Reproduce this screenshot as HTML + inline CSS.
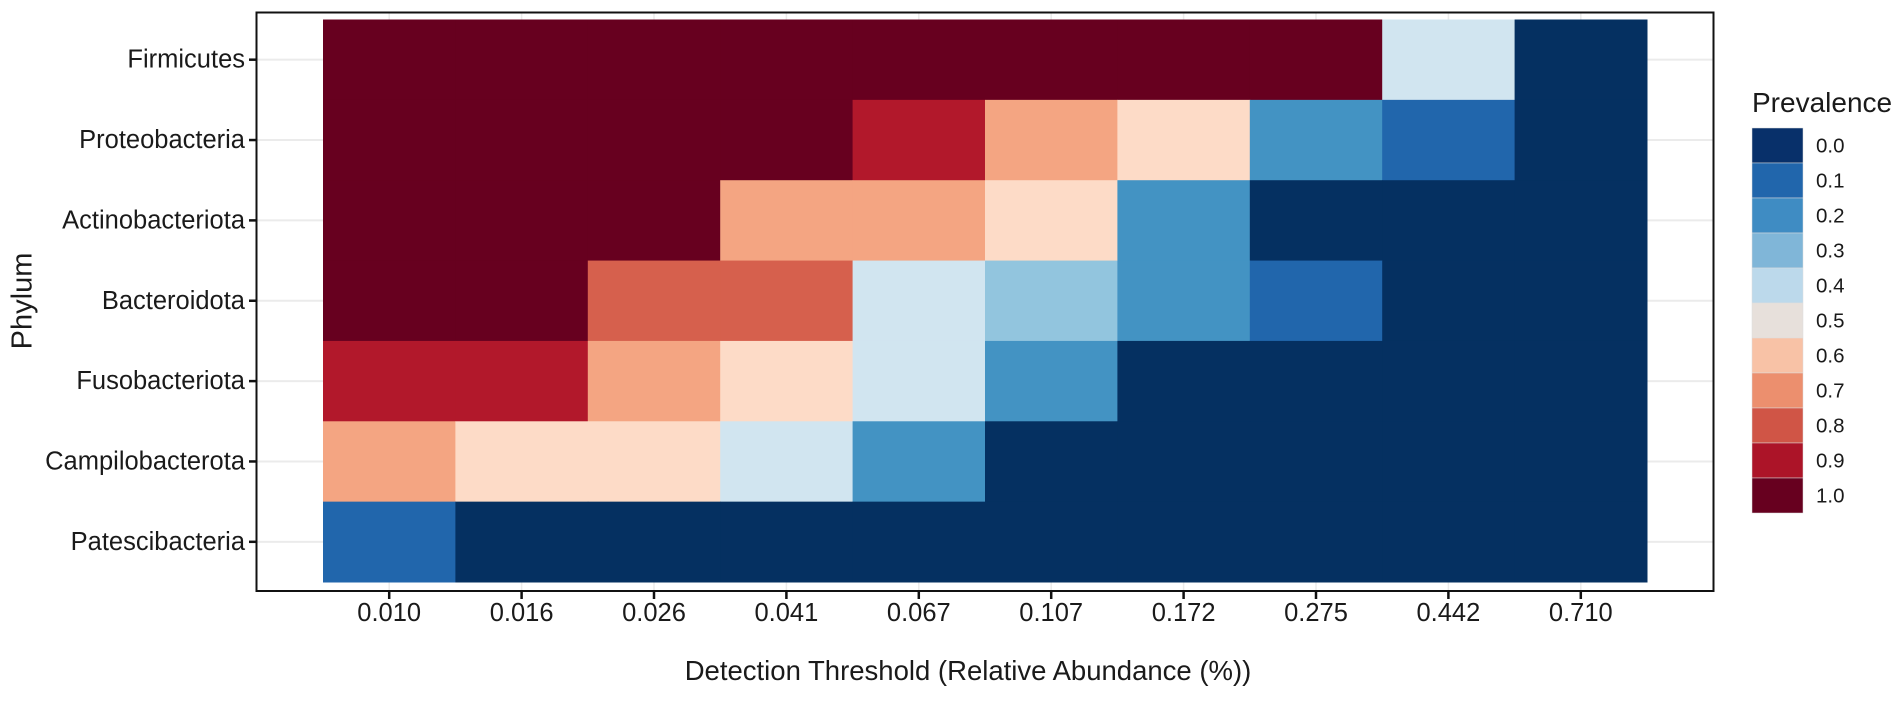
<!DOCTYPE html>
<html><head><meta charset="utf-8"><style>
body{margin:0;background:#fff;}
svg text{font-family:"Liberation Sans",Arial,sans-serif;fill:#1a1a1a;}
</style></head><body>
<svg width="1902" height="701" xmlns="http://www.w3.org/2000/svg">
<g id="grid"></g>
<g id="tiles"></g>
<rect x="256.5" y="12.5" width="1457" height="578.5" fill="none" stroke="#111" stroke-width="2"/>
<g id="axes"></g>
<text x="24" y="301" font-size="29" text-anchor="middle" transform="rotate(-90 24 301)" dominant-baseline="middle">Phylum</text>
<text x="968" y="680" font-size="27.5" text-anchor="middle">Detection Threshold (Relative Abundance (%))</text>
<text x="1752" y="112" font-size="28">Prevalence</text>
<g id="legend"></g>
</svg>
<script>
const categoriesX = ["0.010","0.016","0.026","0.041","0.067","0.107","0.172","0.275","0.442","0.710"];
const categoriesY = ["Firmicutes","Proteobacteria","Actinobacteriota","Bacteroidota","Fusobacteriota","Campilobacterota","Patescibacteria"];
const rowFirmicutes = [1,1,1,1,1,1,1,1,0.4,0];
const rowProteobacteria = [1,1,1,1,0.9,0.7,0.6,0.2,0.1,0];
const rowActinobacteriota = [1,1,1,0.7,0.7,0.6,0.2,0,0,0];
const rowBacteroidota = [1,1,0.8,0.8,0.4,0.3,0.2,0.1,0,0];
const rowFusobacteriota = [0.9,0.9,0.7,0.6,0.4,0.2,0,0,0,0];
const rowCampilobacterota = [0.7,0.6,0.6,0.4,0.2,0,0,0,0,0];
const rowPatescibacteria = [0.1,0,0,0,0,0,0,0,0,0];
const values = [rowFirmicutes,rowProteobacteria,rowActinobacteriota,rowBacteroidota,rowFusobacteriota,rowCampilobacterota,rowPatescibacteria];
const legendLevels = ["0.0","0.1","0.2","0.3","0.4","0.5","0.6","0.7","0.8","0.9","1.0"];

const NS="http://www.w3.org/2000/svg";
const tileL=323, tileR=1647, tileT=19.5, tileB=582;
const colW=(tileR-tileL)/categoriesX.length, rowH=(tileB-tileT)/categoriesY.length;
function xPos(i){return tileL+colW*i;}
function yPos(j){return tileT+rowH*j;}
const stops=[[5,48,97],[33,102,172],[67,147,195],[146,197,222],[209,229,240],[247,247,247],[253,219,199],[244,165,130],[214,96,77],[178,24,43],[103,0,31]];
const legendCols=["#08306a","#2166ac","#3f8cc3","#80b6d8","#bcd9eb","#e7e0db","#f8c2a6","#ec8f6e","#d05546","#ac1428","#67001f"];
function color(v){
  const t=Math.max(0,Math.min(1,v))*10, i=Math.min(9,Math.floor(t)), f=t-i;
  const a=stops[i], b=stops[i+1];
  return "rgb("+a.map((c,k)=>Math.round(c+(b[k]-c)*f)).join(",")+")";
}
function mk(tag,attrs,parent){const e=document.createElementNS(NS,tag);for(const k in attrs)e.setAttribute(k,attrs[k]);parent.appendChild(e);return e;}
const grid=document.getElementById("grid"), tiles=document.getElementById("tiles"), axes=document.getElementById("axes"), legend=document.getElementById("legend");
categoriesY.forEach((c,j)=>{
  const y=yPos(j)+rowH/2;
  const g=mk("line",{x1:257,x2:1713,y1:y,y2:y,stroke:"#ebebeb","stroke-width":2},grid);
  
  
  const t=mk("line",{x1:249,x2:257,y1:y,y2:y,stroke:"#111","stroke-width":2.5},axes);
  
  
  const l=mk("text",{x:245,y:y,"font-size":25.5,"text-anchor":"end","dominant-baseline":"central"},axes);
  l.textContent=c;
  
  
});
categoriesX.forEach((c,i)=>{
  const x=xPos(i)+colW/2;
  const g=mk("line",{x1:x,x2:x,y1:13,y2:590,stroke:"#ebebeb","stroke-width":1.5},grid);
  
  
  const t=mk("line",{x1:x,x2:x,y1:591,y2:599,stroke:"#111","stroke-width":2.5},axes);
  
  
  const l=mk("text",{x:x,y:621,"font-size":25.5,"text-anchor":"middle"},axes);
  l.textContent=c;
  
  
});
values.forEach((row,j)=>row.forEach((v,i)=>{
  const r=mk("rect",{x:xPos(i),y:yPos(j),width:colW+0.5,height:rowH+0.5,fill:color(v)},tiles);
  
  
}));
legendLevels.forEach((lv,k)=>{
  const y=128+k*35;
  const r=mk("rect",{x:1752,y:y,width:51,height:35,fill:legendCols[k],stroke:"#ddd","stroke-width":0.5},legend);
  
  
  const t=mk("text",{x:1816,y:y+18,"font-size":20.5,"dominant-baseline":"central"},legend);
  t.textContent=lv;
  
  
});
</script>
</body></html>
